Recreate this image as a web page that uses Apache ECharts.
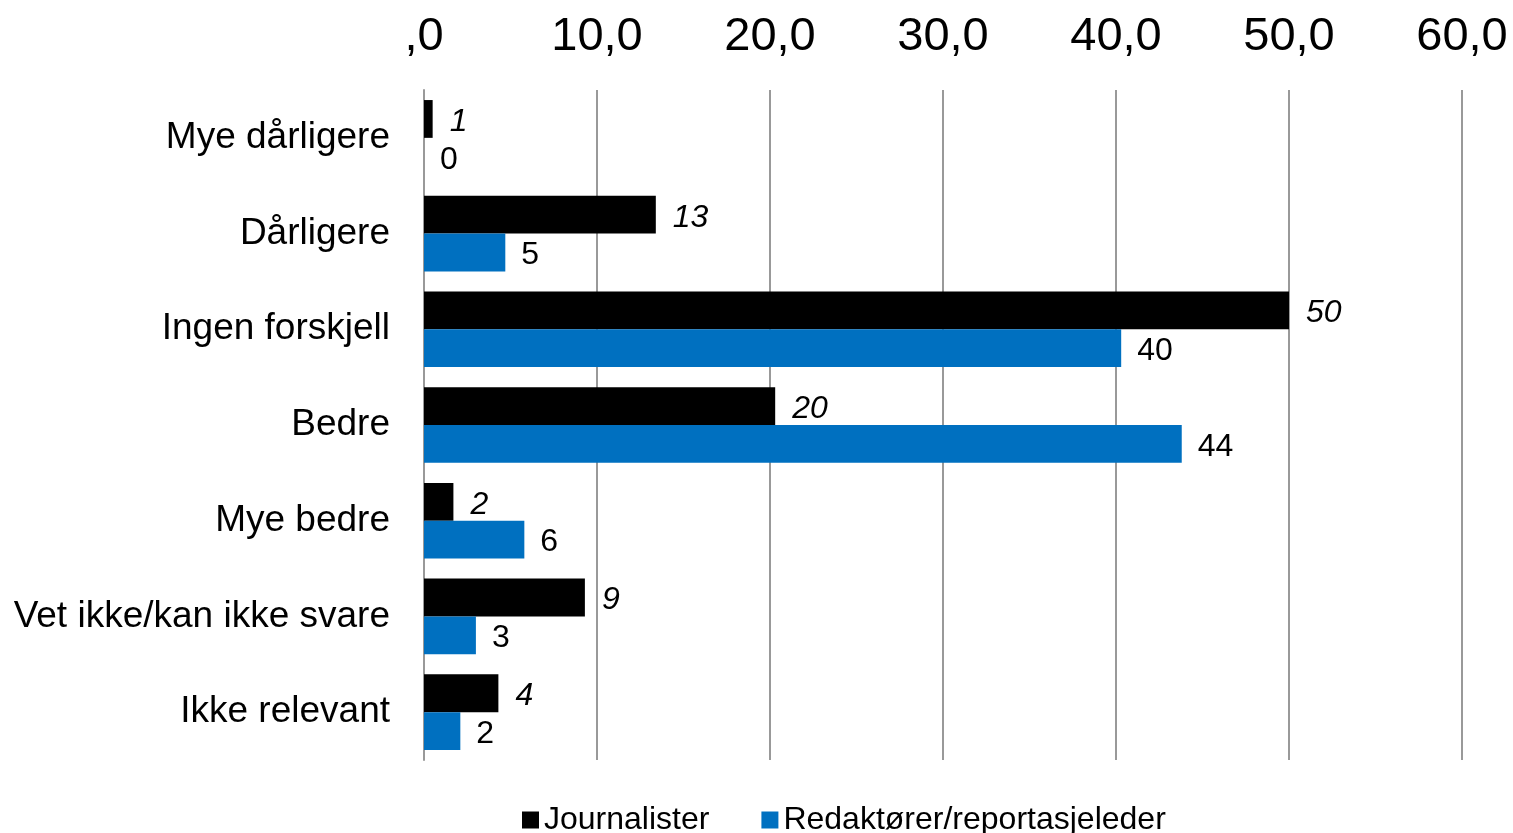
<!DOCTYPE html>
<html lang="no">
<head>
    <meta charset="UTF-8">
    <title>Journalister og redaktører</title>
    <style>
        body { margin: 0; background: #fff; }
        #container { width: 1513px; height: 833px; }
    </style>
    <script src="https://cdn.jsdelivr.net/npm/echarts@6.0.0/dist/echarts.min.js"></script>
</head>
<body>
    <div id="container"></div>
    <script>
        // data
        var categories = ['Mye dårligere', 'Dårligere', 'Ingen forskjell', 'Bedre', 'Mye bedre', 'Vet ikke/kan ikke svare', 'Ikke relevant'];
        var journalister = [0.5, 13.4, 50.0, 20.3, 1.7, 9.3, 4.3];
        var journalisterLabels = ['1', '13', '50', '20', '2', '9', '4'];
        var redaktorer = [0, 4.7, 40.3, 43.8, 5.8, 3.0, 2.1];
        var redaktorerLabels = ['0', '5', '40', '44', '6', '3', '2'];
        var seriesNames = ['Journalister', 'Redaktører/reportasjeleder'];

        var chart = echarts.init(document.getElementById('container'));
        var font = 'Liberation Sans, Arial, sans-serif';

        chart.setOption({
            backgroundColor: '#fff',
            animation: false,
            textStyle: { fontFamily: font },
            legend: {
                data: seriesNames,
                bottom: -8,
                left: 517,
                itemWidth: 17,
                itemHeight: 17,
                itemGap: 52,
                icon: 'rect',
                textStyle: { fontSize: 32, color: '#000', fontFamily: font, padding: [0, 0, 0, 0] }
            },
            grid: { left: 424, right: 51, top: 90, bottom: 73 },
            xAxis: {
                type: 'value',
                position: 'top',
                min: 0,
                max: 60,
                interval: 10,
                axisLine: { show: false },
                axisTick: { show: false },
                splitLine: { lineStyle: { color: '#999', width: 2 } },
                axisLabel: {
                    fontSize: 47,
                    color: '#000',
                    margin: 29,
                    formatter: function (v) { return v === 0 ? ',0' : v + ',0'; }
                }
            },
            yAxis: {
                type: 'category',
                data: categories,
                inverse: true,
                axisLine: { lineStyle: { color: '#999', width: 2 } },
                axisTick: { show: false },
                axisLabel: { fontSize: 37, color: '#000', margin: 34, padding: [6, 0, 0, 0] }
            },
            series: [
                {
                    name: seriesNames[0],
                    type: 'bar',
                    data: journalister,
                    barGap: '0%',
                    barCategoryGap: '21%',
                    itemStyle: { color: '#000' },
                    label: {
                        show: true,
                        position: 'right',
                        distance: 17,
                        fontSize: 32,
                        fontStyle: 'italic',
                        color: '#000',
                        offset: [0, 3],
                        formatter: function (p) { return journalisterLabels[p.dataIndex]; }
                    }
                },
                {
                    name: seriesNames[1],
                    type: 'bar',
                    data: redaktorer,
                    itemStyle: { color: '#0070c0' },
                    label: {
                        show: true,
                        position: 'right',
                        distance: 16,
                        fontSize: 32,
                        color: '#000',
                        offset: [0, 3],
                        formatter: function (p) { return redaktorerLabels[p.dataIndex]; }
                    }
                }
            ]
        });
    </script>
</body>
</html>
